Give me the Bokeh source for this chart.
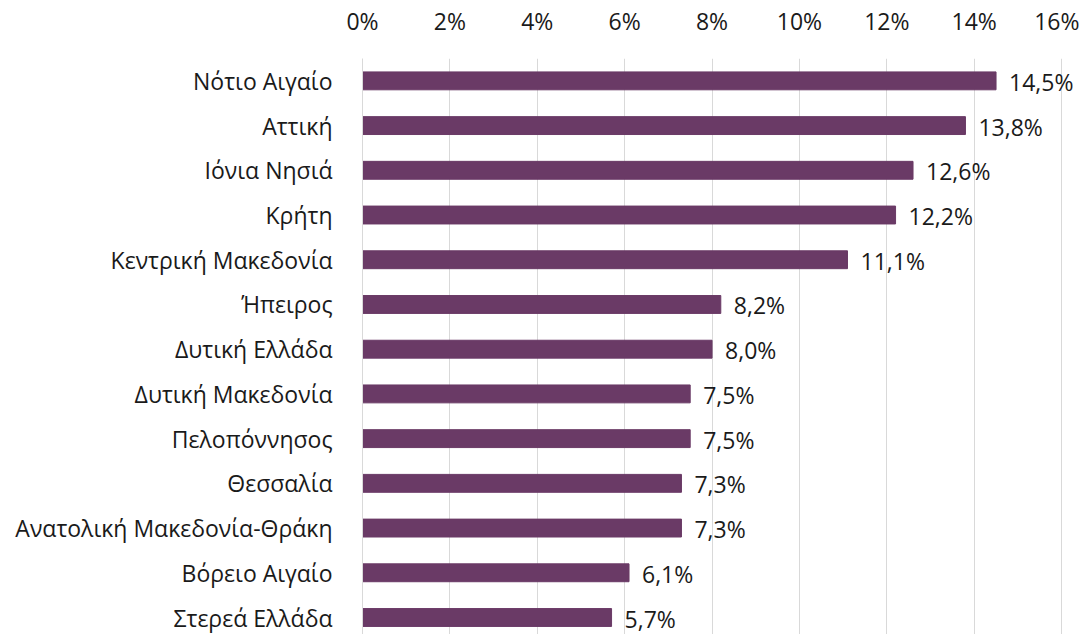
from bokeh.plotting import figure
from bokeh.models import Range1d, FixedTicker, ColumnDataSource, LabelSet
from bokeh.core.properties import value
from bokeh.embed import file_html
from bokeh.resources import INLINE

regions = ["Νότιο Αιγαίο", "Αττική", "Ιόνια Νησιά", "Κρήτη", "Κεντρική Μακεδονία",
           "Ήπειρος", "Δυτική Ελλάδα", "Δυτική Μακεδονία", "Πελοπόννησος", "Θεσσαλία",
           "Ανατολική Μακεδονία-Θράκη", "Βόρειο Αιγαίο", "Στερεά Ελλάδα"]
values = [14.5, 13.8, 12.6, 12.2, 11.1, 8.2, 8.0, 7.5, 7.5, 7.3, 7.3, 6.1, 5.7]
x_ticks = [0, 2, 4, 6, 8, 10, 12, 14, 16]

FONT = "Open Sans"
FS = "23px"
TXT = "#1a1a1a"
BAR = "#6a3a66"

pos = list(range(len(regions)))
src = ColumnDataSource(dict(
    y=pos, v=values,
    lab=[f"{v:.1f}".replace(".", ",") + "%" for v in values],
))

p = figure(width=1079, height=634, output_backend="svg", toolbar_location=None,
           x_axis_location="above",
           x_range=Range1d(0, 16.41), y_range=Range1d(12.38, -0.5),
           min_border_left=362, min_border_top=58, min_border_bottom=0, min_border_right=0)
p.outline_line_color = None
p.background_fill_color = "white"
p.border_fill_color = "white"

p.hbar(y="y", right="v", left=0, height=0.4, color=BAR, source=src)

labels = LabelSet(x="v", y="y", text="lab", source=src, x_offset=13, y_offset=-1,
                  text_font=value(FONT), text_font_size=value(FS), text_color=TXT,
                  text_baseline="middle", text_align="left")
p.add_layout(labels)

xa = p.xaxis[0]
xa.ticker = FixedTicker(ticks=x_ticks)
xa.major_label_overrides = {t: f"{t}%" for t in x_ticks}
xa.axis_line_color = None
xa.major_tick_line_color = None
xa.minor_tick_line_color = None
xa.major_label_text_font = FONT
xa.major_label_text_font_size = FS
xa.major_label_text_color = TXT
xa.major_label_standoff = 16

ya = p.yaxis[0]
ya.ticker = FixedTicker(ticks=pos)
ya.major_label_overrides = {i: r for i, r in enumerate(regions)}
ya.axis_line_color = "#d9d9d9"
ya.axis_line_width = 1
ya.major_tick_line_color = None
ya.minor_tick_line_color = None
ya.major_label_text_font = FONT
ya.major_label_text_font_size = FS
ya.major_label_text_color = TXT
ya.major_label_standoff = 24

p.xgrid.ticker = FixedTicker(ticks=x_ticks[1:])
p.xgrid.grid_line_color = "#d9d9d9"
p.ygrid.grid_line_color = None

open("out.html", "w").write(file_html(p, INLINE))
